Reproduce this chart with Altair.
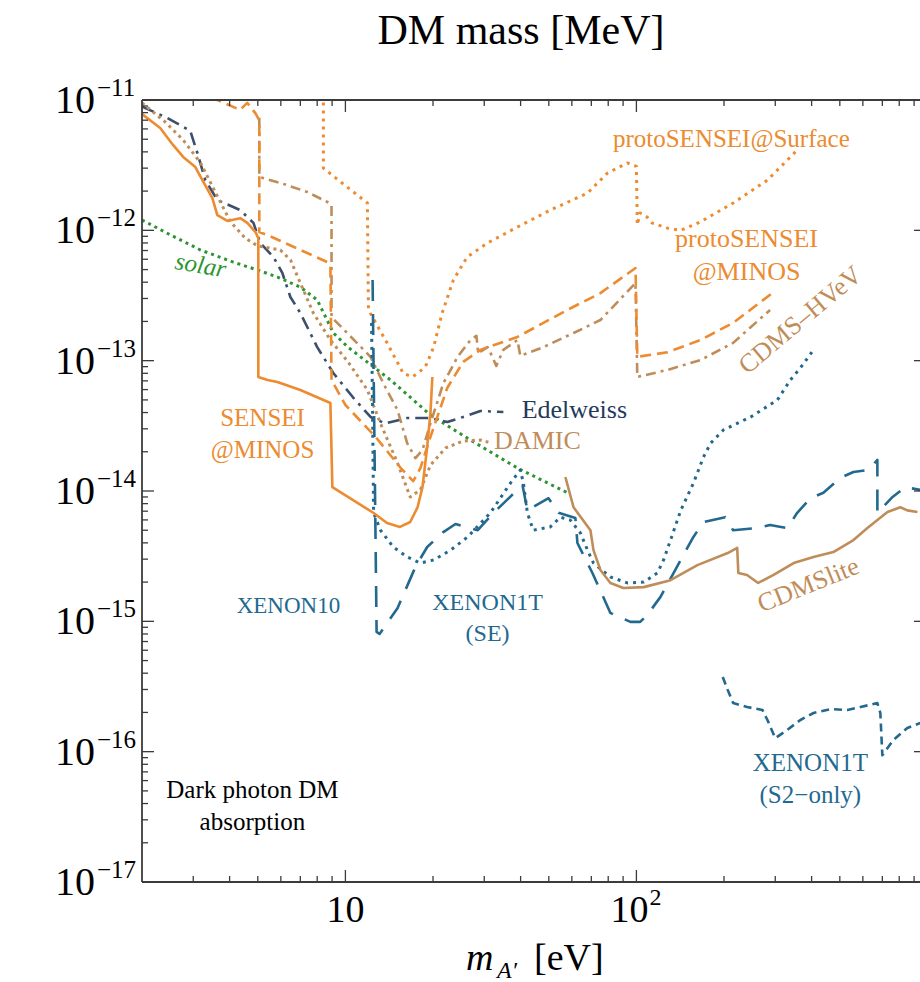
import altair as alt
import pandas as pd

FONT = "Liberation Serif"
ORANGE = "#EC8B2F"
TAN = "#BF8D5A"
SLATE = "#3E4F6C"
NAVY = "#24395B"
TEAL = "#23698F"
GREEN = "#2C9430"
FRAME = "#3B3B3B"

W, H = 778, 782

# ---- limit curves: dark photon mass m [eV] vs kinetic mixing epsilon ----
sensei_minos_m = [2.0, 2.31, 2.56, 2.77, 3.05, 3.25, 3.49, 3.63, 3.93, 4.35, 4.60, 4.91, 5.02,
                  5.02, 5.40, 5.84, 7.0, 8.88, 9.02, 12.5, 13.9, 15.4, 16.7, 17.7, 18.4, 19.1,
                  19.6, 19.9]
sensei_minos_eps = [7.8e-12, 6.1e-12, 4.5e-12, 3.66e-12, 3.06e-12, 2.35e-12, 1.77e-12, 1.31e-12,
                    1.18e-12, 1.24e-12, 1.14e-12, 9.7e-13, 8.7e-13, 7.5e-14, 7.1e-14, 6.86e-14,
                    5.96e-14, 4.73e-14, 1.07e-14, 6.78e-15, 5.68e-15, 5.3e-15, 5.78e-15, 7.5e-15,
                    1.07e-14, 2.18e-14, 3.97e-14, 7.5e-14]

proto_minos_m = [3.45, 4.35, 4.60, 4.91, 5.06, 5.06, 5.40, 8.67, 8.88, 8.96, 10.0, 12.7, 15.5,
                 17.1, 18.1, 19.6, 22.4, 25.4, 29.1, 39.0, 57.9, 75.2, 99.3, 100.7, 128, 166,
                 215, 296]
proto_minos_eps = [1.05e-11, 8.4e-12, 9.5e-12, 7.9e-12, 7.0e-12, 9.7e-13, 9.2e-13, 5.7e-13,
                   5.4e-13, 7.1e-14, 4.57e-14, 2.6e-14, 1.5e-14, 1.19e-14, 1.5e-14, 2.6e-14,
                   6.2e-14, 9.8e-14, 1.21e-13, 1.52e-13, 2.45e-13, 3.3e-13, 5.14e-13, 1.07e-13,
                   1.16e-13, 1.44e-13, 1.95e-13, 3.36e-13]

proto_surface_m = [8.4, 8.4, 11.9, 12.0, 13.9, 15.8, 17.0, 18.8, 20.1, 21.5, 23.5, 26.2, 30.8,
                   39.0, 50.6, 67.9, 79.5, 93.1, 100, 100.7, 103, 109, 113, 128, 142, 166, 215,
                   282, 357]
proto_surface_eps = [1.1e-11, 3.0e-12, 1.62e-12, 2.45e-13, 1.37e-13, 8.0e-14, 7.5e-14, 8.9e-14,
                     1.27e-13, 2.32e-13, 4.16e-13, 6.24e-13, 8.0e-13, 1.06e-12, 1.43e-12,
                     1.93e-12, 2.75e-12, 3.29e-12, 3.1e-12, 1.1e-12, 1.36e-12, 1.26e-12,
                     1.14e-12, 1.04e-12, 1.0e-12, 1.16e-12, 1.62e-12, 2.43e-12, 4.13e-12]

cdms_hvev_m = [5.06, 5.06, 5.98, 7.39, 8.81, 8.96, 8.96, 12.2, 13.5, 15.1, 16.3, 17.4, 18.4,
               19.6, 21.7, 24.3, 26.9, 28.2, 28.6, 30.8, 32.0, 33.0, 34.9, 39.0, 39.9, 47.9,
               60.8, 75.2, 99.3, 100.7, 128, 166, 215, 288]
cdms_hvev_eps = [7.3e-12, 2.57e-12, 2.31e-12, 1.97e-12, 1.62e-12, 1.57e-12, 2.16e-13, 1.07e-13,
                 6.7e-14, 4.18e-14, 2.33e-14, 1.79e-14, 2.06e-14, 3.3e-14, 6.7e-14, 1.07e-13,
                 1.44e-13, 1.55e-13, 1.14e-13, 1.27e-13, 1.07e-13, 9.1e-14, 1.21e-13, 1.44e-13,
                 1.09e-13, 1.27e-13, 1.63e-13, 2.05e-13, 3.94e-13, 7.5e-14, 8.5e-14, 1.01e-13,
                 1.37e-13, 2.45e-13]

damic_m = [2.0, 2.40, 2.77, 3.18, 3.57, 4.03, 4.53, 4.99, 5.98, 6.48, 7.0, 7.76, 8.88, 10.2,
           11.9, 13.2, 15.1, 16.7, 18.1, 19.6, 22.1, 25.4, 29.1, 31.0]
damic_eps = [9.5e-12, 6.8e-12, 4.93e-12, 3.29e-12, 1.97e-12, 1.16e-12, 8.7e-13, 7.6e-13,
             7.06e-13, 5.9e-13, 3.94e-13, 2.32e-13, 1.44e-13, 9.8e-14, 5.96e-14, 3.3e-14,
             1.64e-14, 9.0e-15, 1.02e-14, 1.58e-14, 2.14e-14, 2.42e-14, 2.46e-14, 2.37e-14]

edelweiss_m = [2.0, 2.44, 2.93, 3.10, 3.30, 3.63, 4.35, 4.83, 5.10, 5.66, 6.07, 6.47, 7.0, 8.0,
               9.1, 10.6, 12.2, 13.7, 16.3, 19.6, 22.4, 25.4, 29.1, 34.9]
edelweiss_eps = [8.9e-12, 7.3e-12, 5.8e-12, 3.92e-12, 2.43e-12, 1.71e-12, 1.43e-12, 1.14e-12,
                 8.0e-13, 6.24e-13, 4.71e-13, 3.08e-13, 2.32e-13, 1.27e-13, 8.0e-14, 5.26e-14,
                 3.7e-14, 3.3e-14, 3.63e-14, 3.63e-14, 3.38e-14, 3.7e-14, 4.11e-14, 4.04e-14]

solar_m = [2.0, 2.44, 3.18, 4.12, 4.99, 5.84, 7.0, 8.0, 9.1, 10.2, 14.3, 19.6, 26.9, 39.0, 57.9]
solar_eps = [1.2e-12, 9.5e-13, 7.06e-13, 5.7e-13, 4.96e-13, 4.38e-13, 3.67e-13, 2.92e-13,
             1.63e-13, 1.27e-13, 7.1e-14, 3.83e-14, 2.46e-14, 1.5e-14, 9.7e-15]

xenon1t_se_m = [12.3, 12.4, 12.5, 13.2, 14.6, 16.3, 18.1, 20.1, 23.0, 26.3, 31.5, 36.9, 39.9,
                40.9, 42.2, 44.2, 50.6, 54.8, 59.3, 64.2, 67.9, 71.2, 81.4, 93.1, 106, 118, 124,
                131, 142, 157, 170, 180, 199, 247, 305, 338, 366, 406]
xenon1t_se_eps = [1.95e-13, 3.97e-14, 6.8e-15, 5.0e-15, 3.72e-15, 3.12e-15, 2.8e-15, 2.96e-15,
                  3.52e-15, 4.44e-15, 6.8e-15, 1.15e-14, 1.45e-14, 1.15e-14, 6.8e-15, 5.0e-15,
                  5.3e-15, 6.3e-15, 5.98e-15, 4.76e-15, 3.52e-15, 2.8e-15, 2.19e-15, 1.97e-15,
                  2.0e-15, 2.35e-15, 2.96e-15, 4.2e-15, 7.1e-15, 1.15e-14, 1.82e-14, 2.33e-14,
                  2.94e-14, 3.7e-14, 4.99e-14, 7.1e-14, 8.8e-14, 1.21e-13]

xenon10_m = [12.4, 12.8, 13.1, 15.1, 17.4, 19.1, 21.7, 23.9, 28.5, 32.3, 39.0, 40.6, 42.2, 49.9,
             54.0, 61.7, 62.7, 70.6, 81.4, 95.3, 103, 109, 121, 142, 157, 170, 202, 215, 261,
             288, 330, 357, 396, 439, 502, 557, 627, 673, 673, 759, 840, 946]
xenon10_eps = [4.16e-13, 8.3e-16, 8.0e-16, 1.26e-15, 2.61e-15, 3.72e-15, 4.84e-15, 5.58e-15,
               5.0e-15, 6.8e-15, 1.02e-14, 1.11e-14, 7.1e-15, 8.8e-15, 6.8e-15, 6.2e-15,
               3.99e-15, 2.35e-15, 1.16e-15, 9.9e-16, 9.9e-16, 1.12e-15, 1.54e-15, 2.96e-15,
               4.44e-15, 5.78e-15, 6.3e-15, 5.0e-15, 5.2e-15, 5.48e-15, 5.2e-15, 6.8e-15,
               8.8e-15, 9.7e-15, 1.26e-14, 1.4e-14, 1.45e-14, 1.73e-14, 6.8e-15, 9.0e-15,
               1.07e-14, 1.02e-14]

xenon1t_s2_m = [198, 206, 215, 240, 271, 282, 300, 330, 366, 406, 464, 531, 589, 673, 689, 700,
                764, 853, 946]
xenon1t_s2_eps = [3.74e-16, 2.97e-16, 2.36e-16, 2.2e-16, 2.09e-16, 1.75e-16, 1.27e-16, 1.47e-16,
                  1.75e-16, 1.98e-16, 2.12e-16, 2.09e-16, 2.2e-16, 2.36e-16, 1.98e-16, 9.4e-17,
                  1.23e-16, 1.52e-16, 1.66e-16]

cdmslite_m = [57.0, 60.8, 69.5, 71.2, 75.2, 81.4, 90.2, 106, 131, 162, 206, 222, 224, 240, 262,
              296, 347, 406, 475, 557, 622, 729, 807, 853, 924]
cdmslite_eps = [1.28e-14, 7.5e-15, 5.0e-15, 3.52e-15, 2.48e-15, 1.97e-15, 1.8e-15, 1.83e-15,
                2.07e-15, 2.7e-15, 3.34e-15, 3.66e-15, 2.35e-15, 2.27e-15, 1.97e-15, 2.27e-15,
                2.8e-15, 3.12e-15, 3.4e-15, 4.2e-15, 5.2e-15, 6.9e-15, 7.5e-15, 7.1e-15, 6.9e-15]

# ---- axis ticks ----
x_major = [10, 100]
x_minor = [3, 4, 5, 6, 7, 8, 9, 20, 30, 40, 50, 60, 70, 80, 90,
           200, 300, 400, 500, 600, 700, 800, 900]
y_major = [1e-11, 1e-12, 1e-13, 1e-14, 1e-15, 1e-16, 1e-17]
y_exponents = ["−11", "−12", "−13", "−14", "−15", "−16", "−17"]
y_minor = [k * 10.0 ** e for e in range(-17, -11) for k in range(2, 10)]

xscale = alt.Scale(type="log", domain=[2, 943], nice=False)
yscale = alt.Scale(type="log", domain=[1e-17, 1e-11], nice=False)


def curve(m, eps, color, dash=None, width=2.6):
    df = pd.DataFrame({"m": m, "eps": eps, "i": list(range(len(m)))})
    kw = dict(color=color, strokeWidth=width, clip=True, strokeCap="butt", strokeJoin="round")
    if dash:
        kw["strokeDash"] = dash
    return alt.Chart(df).mark_line(**kw).encode(
        x=alt.X("m:Q", scale=xscale, axis=None),
        y=alt.Y("eps:Q", scale=yscale, axis=None),
        order=alt.Order("i:Q"),
    )


def label(text, m, eps, color, size=26, angle=0, style="normal"):
    df = pd.DataFrame({"m": [m], "eps": [eps], "t": [text]})
    kw = dict(font=FONT, fontSize=size, color=color, align="center", baseline="middle",
              fontStyle=style)
    if angle:
        kw["angle"] = angle
    return alt.Chart(df).mark_text(**kw).encode(
        x=alt.X("m:Q", scale=xscale, axis=None),
        y=alt.Y("eps:Q", scale=yscale, axis=None),
        text="t:N",
    )


one = pd.DataFrame({"k": [0]})


def fixed_text(text, x, y, size, style="normal", align="center", color="black"):
    return alt.Chart(one).mark_text(font=FONT, fontSize=size, fontStyle=style, align=align,
                                    baseline="alphabetic", color=color).encode(
        x=alt.value(x), y=alt.value(y), text=alt.value(text))


def xticks(vals, y0, y1):
    return alt.Chart(pd.DataFrame({"v": vals})).mark_rule(color=FRAME, strokeWidth=1.3).encode(
        x=alt.X("v:Q", scale=xscale, axis=None), y=alt.value(y0), y2=alt.value(y1))


def yticks(vals, x0, x1):
    return alt.Chart(pd.DataFrame({"v": vals})).mark_rule(color=FRAME, strokeWidth=1.3).encode(
        y=alt.Y("v:Q", scale=yscale, axis=None), x=alt.value(x0), x2=alt.value(x1))


frame = [
    alt.Chart(one).mark_rule(color=FRAME, strokeWidth=1.8).encode(
        x=alt.value(0), y=alt.value(0), y2=alt.value(H)),
    alt.Chart(one).mark_rule(color=FRAME, strokeWidth=1.8).encode(
        y=alt.value(H), x=alt.value(0), x2=alt.value(W)),
    alt.Chart(one).mark_rule(color=FRAME, strokeWidth=1.8).encode(
        y=alt.value(0), x=alt.value(0), x2=alt.value(W)),
]

ticks = [
    xticks(x_major, H, H - 12), xticks(x_minor, H, H - 6),
    xticks(x_major, 0, 12), xticks(x_minor, 0, 6),
    yticks(y_major, 0, 12), yticks(y_minor, 0, 6),
    yticks(y_major[1:-1], W - 6, W),
]

ylab_df = pd.DataFrame({"v": y_major, "e": y_exponents})
tick_labels = [
    alt.Chart(ylab_df).mark_text(font=FONT, fontSize=40, align="right", baseline="alphabetic",
                                 dy=13, color="black").encode(
        x=alt.value(-47), y=alt.Y("v:Q", scale=yscale, axis=None), text=alt.value("10")),
    alt.Chart(ylab_df).mark_text(font=FONT, fontSize=25, align="left", baseline="alphabetic",
                                 dy=-4, color="black").encode(
        x=alt.value(-45), y=alt.Y("v:Q", scale=yscale, axis=None), text="e:N"),
    alt.Chart(pd.DataFrame({"v": [10]})).mark_text(
        font=FONT, fontSize=38, align="center", baseline="alphabetic", color="black").encode(
        x=alt.X("v:Q", scale=xscale, axis=None), y=alt.value(H + 40), text=alt.value("10")),
    alt.Chart(pd.DataFrame({"v": [100]})).mark_text(
        font=FONT, fontSize=38, align="right", baseline="alphabetic", dx=12,
        color="black").encode(
        x=alt.X("v:Q", scale=xscale, axis=None), y=alt.value(H + 40), text=alt.value("10")),
    alt.Chart(pd.DataFrame({"v": [100]})).mark_text(
        font=FONT, fontSize=24, align="left", baseline="alphabetic", dx=13, dy=-17,
        color="black").encode(
        x=alt.X("v:Q", scale=xscale, axis=None), y=alt.value(H + 40), text=alt.value("2")),
]

titles = [
    fixed_text("DM mass [MeV]", 379, -56, 42),
    fixed_text("m", 324, H + 88, 38, style="italic", align="left"),
    fixed_text("A′", 355, H + 96, 24, style="italic", align="left"),
    fixed_text("[eV]", 392, H + 88, 38, align="left"),
]

curves = [
    curve(solar_m, solar_eps, GREEN, [3, 4], width=3),
    curve(edelweiss_m, edelweiss_eps, SLATE, [13, 6, 3, 6]),
    curve(damic_m, damic_eps, TAN, [3, 4], width=3),
    curve(cdms_hvev_m, cdms_hvev_eps, TAN, [10, 5, 3, 5]),
    curve(proto_surface_m, proto_surface_eps, ORANGE, [3, 5], width=3),
    curve(proto_minos_m, proto_minos_eps, ORANGE, [11, 6]),
    curve(xenon10_m, xenon10_eps, TEAL, [21, 13]),
    curve(xenon1t_se_m, xenon1t_se_eps, TEAL, [3, 5], width=3),
    curve(xenon1t_s2_m, xenon1t_s2_eps, TEAL, [8, 5]),
    curve(cdmslite_m, cdmslite_eps, TAN),
    curve(sensei_minos_m, sensei_minos_eps, ORANGE),
]

labels = [
    label("protoSENSEI@Surface", 212, 5.0e-12, ORANGE, size=25),
    label("protoSENSEI", 239, 8.6e-13, ORANGE),
    label("@MINOS", 239, 4.8e-13, ORANGE),
    label("CDMS–HVeV", 366, 2.05e-13, TAN, size=26, angle=320),
    label("Edelweiss", 61.2, 4.18e-14, NAVY),
    label("DAMIC", 45.7, 2.42e-14, TAN),
    label("SENSEI", 5.19, 3.63e-14, ORANGE, size=25),
    label("@MINOS", 5.19, 2.06e-14, ORANGE, size=25),
    label("solar", 3.18, 5.4e-13, GREEN, size=25, angle=10, style="italic"),
    label("XENON10", 6.37, 1.31e-15, TEAL, size=23),
    label("XENON1T", 30.8, 1.38e-15, TEAL, size=24),
    label("(SE)", 30.8, 8.0e-16, TEAL, size=24),
    label("CDMSlite", 390, 1.9e-15, TAN, size=26, angle=338),
    label("XENON1T", 396, 8.2e-17, TEAL, size=25),
    label("(S2−only)", 396, 4.65e-17, TEAL, size=25),
    label("Dark photon DM", 4.79, 5.08e-17, "black", size=25),
    label("absorption", 4.79, 2.88e-17, "black", size=25),
]

chart = alt.layer(*curves, *labels, *frame, *ticks, *tick_labels, *titles).properties(
    width=W,
    height=H,
    padding={"left": 142, "top": 100, "right": 0, "bottom": 100},
    autosize=alt.AutoSizeParams(type="none"),
    background="white",
).configure_view(stroke=None)

chart.save("out.html", embed_options={"renderer": "svg", "actions": False})
